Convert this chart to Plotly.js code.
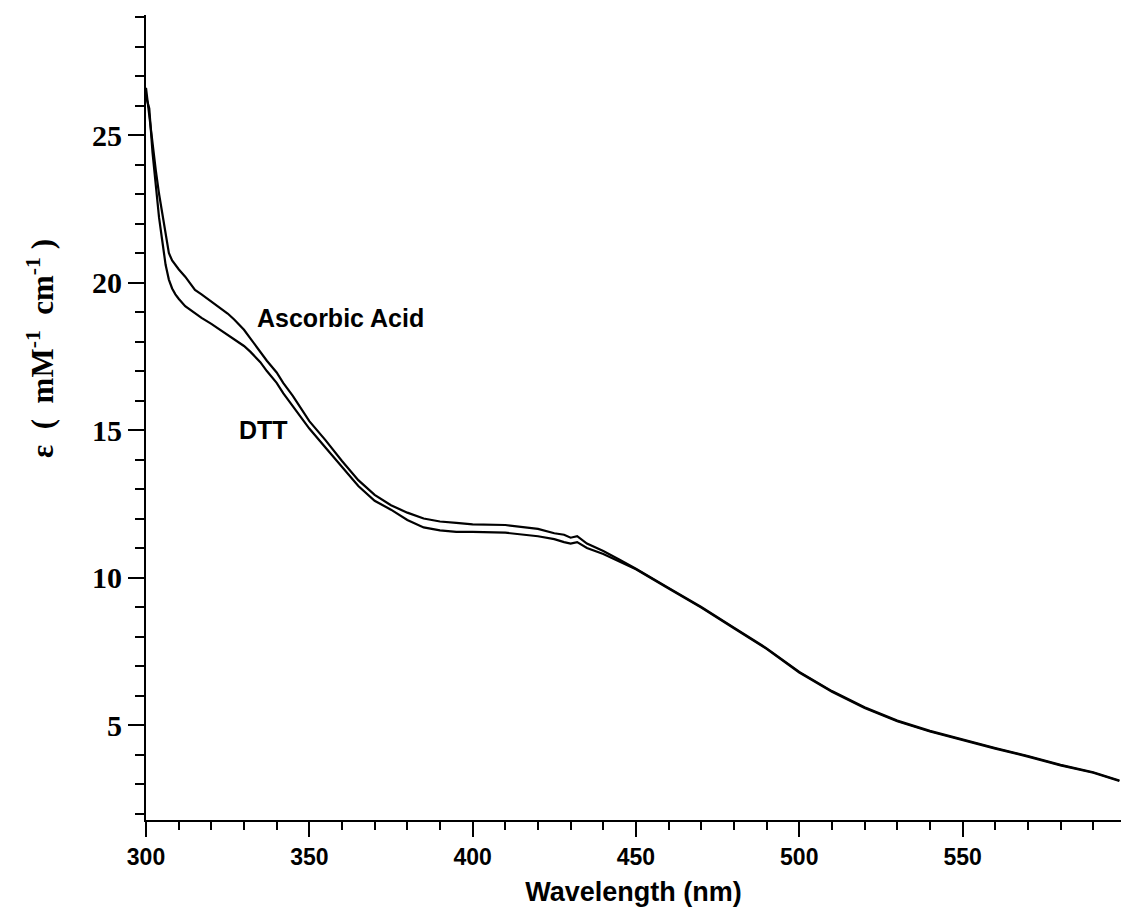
<!DOCTYPE html>
<html>
<head>
<meta charset="utf-8">
<script src="https://cdn.plot.ly/plotly-3.0.1.min.js"></script>
<style>html,body{margin:0;padding:0;background:#fff;}#chart{width:1121px;height:907px;}</style>
</head>
<body>
<div id="chart"></div>
<script>
const wavelength = [300,301,302,303,304,305,306,307,308,309,310,312,315,317,320,322,325,327,330,332,335,337,340,342,345,350,355,360,365,370,375,380,385,390,395,400,410,420,425,428,430,432,435,440,445,450,460,470,480,490,500,510,520,530,540,550,560,570,580,590,598];
const ascorbicAcid = [26.6,25.6,24.6,23.8,23.0,22.3,21.6,21.0,20.75,20.6,20.45,20.2,19.75,19.6,19.35,19.2,18.95,18.75,18.4,18.1,17.65,17.35,16.95,16.6,16.15,15.3,14.65,13.95,13.3,12.8,12.45,12.2,12.0,11.9,11.85,11.8,11.78,11.65,11.5,11.45,11.35,11.4,11.15,10.9,10.6,10.3,9.65,9.0,8.3,7.6,6.8,6.15,5.6,5.15,4.8,4.5,4.22,3.95,3.65,3.4,3.12];
const dtt = [26.3,25.9,24.4,23.2,22.2,21.4,20.6,20.1,19.8,19.6,19.45,19.2,18.95,18.8,18.6,18.45,18.25,18.1,17.85,17.65,17.3,17.0,16.6,16.25,15.8,15.05,14.4,13.75,13.1,12.6,12.3,11.95,11.7,11.6,11.55,11.55,11.52,11.4,11.3,11.2,11.15,11.2,11.0,10.8,10.55,10.28,9.63,8.98,8.28,7.58,6.78,6.13,5.58,5.13,4.78,4.48,4.2,3.93,3.63,3.38,3.1];
const seriesNames = ["Ascorbic Acid","DTT"];
const xTickVals = [300,350,400,450,500,550];
const yTickVals = [5,10,15,20,25];

const traces = [
  {x: wavelength, y: ascorbicAcid, name: seriesNames[0], mode: "lines", line: {color: "#000", width: 2.2}},
  {x: wavelength, y: dtt, name: seriesNames[1], mode: "lines", line: {color: "#000", width: 2.2}}
];

const sans = "'Liberation Sans', Arial, sans-serif";
const serif = "'Liberation Serif', 'Times New Roman', serif";
const sp = "\u00a0";
const layout = {
  width: 1121, height: 907,
  margin: {l: 146, r: 0, t: 15, b: 87},
  paper_bgcolor: "#fff", plot_bgcolor: "#fff",
  showlegend: false,
  xaxis: {
    range: [300, 598.5], showgrid: false, zeroline: false,
    showline: true, linecolor: "#000", linewidth: 2,
    ticks: "outside", ticklen: 15, tickwidth: 2, tickcolor: "#000",
    tickmode: "array", tickvals: xTickVals, ticktext: xTickVals.map(String),
    tickfont: {family: sans, size: 23, color: "#000", weight: "bold"},
    minor: {dtick: 10, tick0: 300, ticks: "outside", ticklen: 8, tickwidth: 2, tickcolor: "#000", showgrid: false},
    title: {text: "<b>Wavelength (nm)</b>", standoff: 18, font: {family: sans, size: 27, color: "#000"}},
    automargin: false
  },
  yaxis: {
    range: [1.78, 29.07], showgrid: false, zeroline: false,
    showline: true, linecolor: "#000", linewidth: 2,
    ticks: "outside", ticklen: 16, tickwidth: 2, tickcolor: "#000",
    tickmode: "array", tickvals: yTickVals, ticktext: yTickVals.map(String),
    tickfont: {family: serif, size: 30, color: "#000", weight: "bold"},
    minor: {dtick: 1, tick0: 0, ticks: "outside", ticklen: 9, tickwidth: 2, tickcolor: "#000", showgrid: false},
    automargin: false
  },
  annotations: [
    {x: 359.6, y: 18.8, xref: "x", yref: "y", text: "<b>" + seriesNames[0] + "</b>", showarrow: false,
     font: {family: sans, size: 25, color: "#000"}},
    {x: 336.1, y: 15.0, xref: "x", yref: "y", text: "<b>" + seriesNames[1] + "</b>", showarrow: false,
     font: {family: sans, size: 25, color: "#000"}},
    {x: 0, y: 0, xref: "paper", yref: "paper", xanchor: "center", yanchor: "middle", textangle: -90, showarrow: false,
     text: "<b>ε" + sp + sp + "(" + sp + sp + "mM<sup>-1</sup>" + sp + sp + "cm<sup>-1</sup>" + sp + ")</b>",
     font: {family: serif, size: 31, color: "#000"}}
  ]
};
(function(){
  const plotW = 1121 - 146, plotH = 907 - 15 - 87;
  const a = layout.annotations[2];
  a.x = (40 - 146) / plotW;
  a.y = (907 - 87 - 349) / plotH;
})();

Plotly.newPlot("chart", traces, layout, {displayModeBar: false, staticPlot: true});
</script>
</body>
</html>
